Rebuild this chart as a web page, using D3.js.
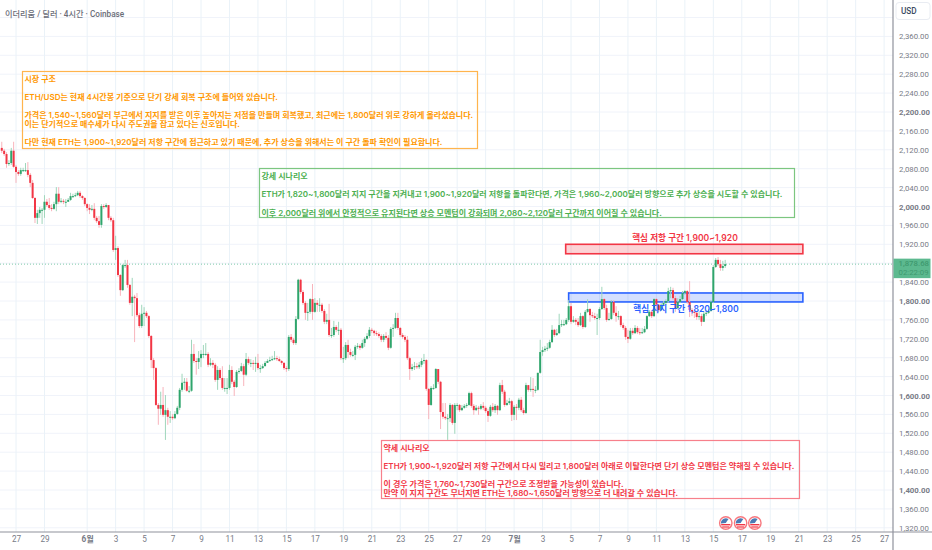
<!DOCTYPE html>
<html>
<head>
<meta charset="utf-8">
<script src="https://cdn.jsdelivr.net/npm/d3@7"></script>
<style>
  html, body { margin: 0; padding: 0; background: #fff; }
  svg { display: block; }
  text { font-family: Roboto, "Noto Sans CJK KR", sans-serif; }
  text.note { font-family: Inter, "Noto Sans CJK KR", sans-serif; }
</style>
</head>
<body>
<div id="chart"></div>
<script>
// 4h candles, first one at 2025-05-26 00:00 UTC, open of each = previous close
const firstOpen = 2124
const closes = [
  2118, 2111, 2090, 2092, 2118, 2084, 2073, 2069, 2077, 2077,
  2077, 2067, 2050, 2018, 1976, 1986, 1993, 1993, 2010, 2003,
  1997, 1995, 2005, 2027, 2010, 2012, 2010, 2010, 2014, 2022,
  2022, 2024, 2029, 2022, 2018, 2005, 1997, 1993, 1995, 1976,
  1969, 1961, 2001, 1999, 2003, 1976, 1971, 1908, 1912, 1855,
  1823, 1876, 1876, 1834, 1796, 1809, 1806, 1770, 1747, 1773,
  1775, 1768, 1726, 1675, 1658, 1580, 1572, 1580, 1559, 1569,
  1555, 1555, 1552, 1561, 1574, 1612, 1627, 1629, 1610, 1610,
  1688, 1673, 1671, 1679, 1688, 1688, 1688, 1665, 1669, 1665,
  1633, 1654, 1637, 1616, 1616, 1616, 1654, 1629, 1618, 1650,
  1652, 1662, 1644, 1677, 1669, 1669, 1667, 1669, 1658, 1658,
  1662, 1669, 1673, 1675, 1677, 1679, 1677, 1673, 1669, 1658,
  1656, 1724, 1718, 1711, 1762, 1845, 1819, 1796, 1775, 1777,
  1804, 1777, 1796, 1792, 1792, 1779, 1756, 1760, 1728, 1728,
  1745, 1739, 1739, 1679, 1679, 1707, 1692, 1686, 1686, 1703,
  1705, 1701, 1711, 1720, 1726, 1739, 1737, 1732, 1730, 1726,
  1718, 1726, 1722, 1701, 1741, 1743, 1764, 1743, 1728, 1724,
  1718, 1679, 1656, 1660, 1662, 1660, 1665, 1673, 1675, 1614,
  1580, 1616, 1616, 1656, 1629, 1565, 1555, 1552, 1552, 1580,
  1542, 1580, 1580, 1569, 1574, 1578, 1580, 1605, 1578, 1569,
  1574, 1572, 1578, 1574, 1567, 1557, 1576, 1569, 1578, 1569,
  1622, 1608, 1580, 1584, 1588, 1559, 1576, 1574, 1591, 1569,
  1563, 1622, 1612, 1614, 1612, 1612, 1648, 1692, 1696, 1699,
  1701, 1713, 1739, 1728, 1732, 1749, 1751, 1751, 1760, 1789,
  1756, 1760, 1756, 1749, 1768, 1745, 1777, 1783, 1770, 1768,
  1764, 1764, 1783, 1804, 1785, 1760, 1762, 1798, 1775, 1768,
  1768, 1749, 1743, 1724, 1720, 1737, 1732, 1743, 1734, 1732,
  1734, 1741, 1768, 1777, 1768, 1804, 1792, 1781, 1792, 1796,
  1800, 1821, 1823, 1806, 1785, 1798, 1804, 1817, 1821, 1798,
  1781, 1777, 1775, 1766, 1768, 1756, 1773, 1775, 1779, 1798,
  1872, 1887, 1878, 1870, 1874, 1878
]
const highs = [
  2137, 2122, 2115, 2098, 2124, 2137, 2088, 2077, 2082, 2082,
  2092, 2094, 2071, 2056, 2020, 1993, 1999, 1997, 2024, 2016,
  2018, 2005, 2010, 2041, 2041, 2018, 2016, 2016, 2018, 2029,
  2027, 2029, 2033, 2033, 2024, 2020, 2007, 2005, 2003, 2007,
  1980, 1980, 2005, 2005, 2007, 2003, 1980, 1976, 1938, 1916,
  1857, 1878, 1887, 1887, 1836, 1849, 1813, 1817, 1775, 1792,
  1787, 1779, 1770, 1728, 1679, 1660, 1584, 1608, 1618, 1601,
  1574, 1567, 1561, 1567, 1578, 1616, 1646, 1637, 1637, 1620,
  1718, 1709, 1679, 1694, 1696, 1707, 1711, 1692, 1679, 1675,
  1669, 1662, 1658, 1662, 1637, 1637, 1665, 1662, 1633, 1654,
  1658, 1669, 1667, 1690, 1682, 1677, 1675, 1682, 1688, 1665,
  1667, 1673, 1677, 1682, 1684, 1694, 1684, 1682, 1675, 1671,
  1662, 1728, 1730, 1722, 1768, 1847, 1847, 1823, 1800, 1796,
  1806, 1836, 1806, 1802, 1806, 1796, 1783, 1773, 1794, 1743,
  1758, 1749, 1756, 1743, 1703, 1713, 1718, 1699, 1694, 1707,
  1711, 1709, 1718, 1724, 1732, 1745, 1743, 1739, 1737, 1734,
  1730, 1730, 1734, 1728, 1745, 1751, 1775, 1775, 1745, 1732,
  1728, 1726, 1682, 1667, 1671, 1669, 1671, 1679, 1688, 1677,
  1616, 1620, 1624, 1658, 1656, 1631, 1584, 1584, 1561, 1584,
  1582, 1584, 1584, 1582, 1580, 1582, 1584, 1608, 1608, 1582,
  1580, 1578, 1582, 1586, 1578, 1572, 1580, 1584, 1582, 1580,
  1627, 1633, 1612, 1591, 1595, 1591, 1580, 1582, 1595, 1597,
  1574, 1627, 1622, 1639, 1637, 1620, 1648, 1718, 1703, 1705,
  1711, 1718, 1749, 1741, 1741, 1773, 1760, 1760, 1764, 1802,
  1796, 1768, 1764, 1764, 1775, 1770, 1781, 1804, 1785, 1777,
  1775, 1773, 1787, 1830, 1806, 1792, 1775, 1802, 1802, 1789,
  1779, 1770, 1754, 1747, 1739, 1743, 1743, 1749, 1747, 1743,
  1743, 1747, 1770, 1781, 1781, 1806, 1806, 1794, 1796, 1800,
  1804, 1828, 1830, 1828, 1811, 1806, 1811, 1821, 1823, 1823,
  1842, 1785, 1781, 1777, 1777, 1773, 1777, 1781, 1783, 1802,
  1876, 1891, 1893, 1887, 1885, 1887
]
const lows = [
  2113, 2107, 2082, 2086, 2088, 2082, 2050, 2065, 2065, 2073,
  2073, 2062, 2041, 2016, 1965, 1963, 1976, 1963, 1976, 1999,
  1993, 1990, 1993, 1990, 2005, 2007, 2005, 1999, 2010, 2012,
  2018, 2020, 2022, 2018, 2014, 2001, 1990, 1984, 1990, 1971,
  1965, 1955, 1955, 1995, 1997, 1971, 1967, 1904, 1887, 1851,
  1811, 1821, 1870, 1828, 1792, 1768, 1713, 1766, 1743, 1743,
  1747, 1764, 1722, 1658, 1633, 1578, 1538, 1559, 1555, 1506,
  1538, 1542, 1548, 1550, 1559, 1569, 1608, 1612, 1608, 1605,
  1608, 1669, 1644, 1656, 1660, 1679, 1684, 1660, 1662, 1658,
  1629, 1612, 1633, 1612, 1608, 1603, 1612, 1624, 1599, 1616,
  1646, 1650, 1620, 1641, 1665, 1660, 1654, 1650, 1654, 1648,
  1656, 1662, 1669, 1671, 1673, 1675, 1673, 1671, 1665, 1654,
  1650, 1652, 1713, 1707, 1707, 1760, 1815, 1792, 1760, 1758,
  1773, 1760, 1775, 1777, 1777, 1775, 1751, 1751, 1724, 1722,
  1724, 1734, 1728, 1675, 1669, 1675, 1679, 1682, 1682, 1675,
  1699, 1696, 1699, 1703, 1718, 1722, 1732, 1726, 1726, 1722,
  1713, 1713, 1718, 1696, 1699, 1724, 1741, 1739, 1724, 1720,
  1713, 1675, 1633, 1652, 1654, 1656, 1656, 1660, 1667, 1610,
  1550, 1578, 1612, 1614, 1624, 1529, 1550, 1548, 1506, 1544,
  1538, 1519, 1569, 1565, 1567, 1572, 1574, 1578, 1574, 1559,
  1567, 1559, 1569, 1569, 1563, 1544, 1555, 1565, 1563, 1559,
  1567, 1603, 1576, 1578, 1580, 1546, 1548, 1548, 1569, 1565,
  1559, 1561, 1608, 1608, 1597, 1605, 1610, 1646, 1684, 1692,
  1694, 1699, 1711, 1724, 1726, 1730, 1745, 1747, 1749, 1756,
  1751, 1754, 1749, 1745, 1747, 1741, 1743, 1775, 1756, 1764,
  1760, 1728, 1760, 1781, 1781, 1756, 1758, 1760, 1770, 1756,
  1760, 1745, 1739, 1718, 1711, 1718, 1728, 1730, 1730, 1728,
  1730, 1732, 1739, 1766, 1764, 1766, 1781, 1777, 1779, 1789,
  1792, 1796, 1806, 1802, 1777, 1783, 1796, 1802, 1813, 1794,
  1766, 1768, 1764, 1760, 1760, 1747, 1756, 1768, 1773, 1777,
  1796, 1870, 1874, 1864, 1864, 1870
]

const priceTicks = [2360, 2320, 2280, 2240, 2200, 2160, 2120, 2080, 2040, 2000, 1960, 1920, 1840, 1800, 1760, 1720, 1680, 1640, 1600, 1560, 1520, 1480, 1440, 1400, 1360, 1320]
const gridPrices = [2400, 2360, 2320, 2280, 2240, 2200, 2160, 2120, 2080, 2040, 2000, 1960, 1920, 1880, 1840, 1800, 1760, 1720, 1680, 1640, 1600, 1560, 1520, 1480, 1440, 1400, 1360, 1320]
const dayTicks = ['05-27', '05-29', '06-01', '06-03', '06-05', '06-07', '06-09', '06-11', '06-13', '06-15', '06-17', '06-19', '06-21', '06-23', '06-25', '06-27', '06-29', '07-01', '07-03', '07-05', '07-07', '07-09', '07-11', '07-13', '07-15', '07-17', '07-19', '07-21', '07-23', '07-25', '07-27']

const lastPrice = 1878
const lastPriceLabel = '1,878.68'
const countdownLabel = '02:22:09'
const chartTitle = '이더리움 / 달러 · 4시간 · Coinbase'

const marketLines = [
  '시장 구조',
  '',
  'ETH/USD는 현재 4시간봉 기준으로 단기 강세 회복 구조에 들어와 있습니다.',
  '',
  '가격은 1,540~1,560달러 부근에서 지지를 받은 이후 높아지는 저점을 만들며 회복했고, 최근에는 1,800달러 위로 강하게 올라섰습니다.',
  '이는 단기적으로 매수세가 다시 주도권을 잡고 있다는 신호입니다.',
  '',
  '다만 현재 ETH는 1,900~1,920달러 저항 구간에 접근하고 있기 때문에, 추가 상승을 위해서는 이 구간 돌파 확인이 필요합니다.'
]
const bullLines = [
  '강세 시나리오',
  '',
  'ETH가 1,820~1,800달러 지지 구간을 지켜내고 1,900~1,920달러 저항을 돌파한다면, 가격은 1,960~2,000달러 방향으로 추가 상승을 시도할 수 있습니다.',
  '',
  '이후 2,000달러 위에서 안정적으로 유지된다면 상승 모멘텀이 강화되며 2,080~2,120달러 구간까지 이어질 수 있습니다.'
]
const bearLines = [
  '약세 시나리오',
  '',
  'ETH가 1,900~1,920달러 저항 구간에서 다시 밀리고 1,800달러 아래로 이탈한다면 단기 상승 모멘텀은 약해질 수 있습니다.',
  '',
  '이 경우 가격은 1,760~1,730달러 구간으로 조정받을 가능성이 있습니다.',
  '만약 이 지지 구간도 무너지면 ETH는 1,680~1,650달러 방향으로 더 내려갈 수 있습니다.'
]
const eventTimes = ['2025-07-15T21:00Z', '2025-07-16T22:00Z', '2025-07-17T22:00Z']

const width = 932
const height = 550
const plotRight = 893
const plotBottom = 532

const x = d3.scaleUtc()
  .domain([new Date('2025-05-25T21:00Z'), new Date('2025-07-27T15:00Z')])
  .range([0, plotRight])
const y = d3.scaleLinear().domain([2200, 1400]).range([112, 490])

const start = Date.parse('2025-05-26T00:00Z')
const barMs = 4 * 3600 * 1000
const candles = closes.map((c, i) => ({
  date: new Date(start + i * barMs),
  open: i === 0 ? firstOpen : closes[i - 1],
  close: c,
  high: highs[i],
  low: lows[i]
}))
const tickDates = dayTicks.map((d) => new Date(`2025-${d}T00:00Z`))

const svg = d3.select('#chart')
  .append('svg')
  .attr('width', width)
  .attr('height', height)

// grid
svg.append('g')
  .selectAll('line')
  .data(gridPrices)
  .join('line')
  .attr('x1', 0)
  .attr('x2', plotRight)
  .attr('y1', (d) => y(d))
  .attr('y2', (d) => y(d))
  .attr('stroke', '#f0f3fa')
svg.append('g')
  .selectAll('line')
  .data(tickDates)
  .join('line')
  .attr('x1', (d) => x(d))
  .attr('x2', (d) => x(d))
  .attr('y1', 0)
  .attr('y2', plotBottom)
  .attr('stroke', '#eaf2f8')

// zones, the edges are times and prices
const zone = (from, to, top, bottom, color, fill) => {
  svg.append('rect')
    .attr('x', x(new Date(from)))
    .attr('width', x(new Date(to)) - x(new Date(from)))
    .attr('y', y(top))
    .attr('height', y(bottom) - y(top))
    .attr('fill', fill)
    .attr('stroke', color)
    .attr('stroke-width', 1.6)
}
zone('2025-07-04T15:00Z', '2025-07-21T07:00Z', 1920, 1900, '#f23645', 'rgba(242,54,69,0.22)')
zone('2025-07-04T20:00Z', '2025-07-21T07:00Z', 1817, 1798, '#2962ff', 'rgba(41,98,255,0.2)')

// last price
svg.append('line')
  .attr('x1', 0)
  .attr('x2', plotRight)
  .attr('y1', y(lastPrice))
  .attr('y2', y(lastPrice))
  .attr('stroke', '#4fb58a')
  .attr('stroke-width', 1)
  .attr('stroke-dasharray', '1 2')
  .attr('opacity', 0.7)

// candles
const bars = svg.append('g')
  .selectAll('g')
  .data(candles)
  .join('g')
  .attr('transform', (d) => `translate(${x(d.date)},0)`)
bars.append('line')
  .attr('y1', (d) => y(d.high))
  .attr('y2', (d) => y(d.low))
  .attr('stroke', (d) => (d.close >= d.open ? '#9fd6bb' : '#f8b4bc'))
  .attr('stroke-width', 1)
bars.append('rect')
  .attr('x', -1)
  .attr('width', 2)
  .attr('y', (d) => y(Math.max(d.open, d.close)))
  .attr('height', (d) => Math.max(1, Math.abs(y(d.open) - y(d.close))))
  .attr('fill', (d) => (d.close >= d.open ? '#2fa56c' : '#f23645'))

// text boxes
const noteBox = (lines, left, top, boxWidth, boxHeight, step, color, strokeColor) => {
  const g = svg.append('g')
  g.append('rect')
    .attr('x', left)
    .attr('y', top)
    .attr('width', boxWidth)
    .attr('height', boxHeight)
    .attr('fill', 'none')
    .attr('stroke', strokeColor)
    .attr('stroke-width', 1.2)
  g.selectAll('text')
    .data(lines)
    .join('text')
    .attr('class', 'note')
    .attr('x', left + 2)
    .attr('y', (d, i) => top + 7.2 + i * step)
    .attr('dy', '0.35em')
    .attr('fill', color)
    .attr('font-size', 8)
    .attr('font-weight', 600)
    .text((d) => d)
}
noteBox(marketLines, 22.5, 71.5, 455, 77, 9.1, '#ff9800', '#ffb44d')
noteBox(bullLines, 259.5, 168.5, 535, 49, 9.25, '#4caf50', '#7cc680')
noteBox(bearLines, 381.5, 440.5, 418, 58, 9, '#f23645', '#f7808b')

svg.append('text')
  .attr('class', 'note')
  .attr('x', 685)
  .attr('y', 238)
  .attr('dy', '0.35em')
  .attr('text-anchor', 'middle')
  .attr('fill', '#f23645')
  .attr('font-size', 8.6)
  .attr('font-weight', 600)
  .text('핵심 저항 구간 1,900~1,920')
svg.append('text')
  .attr('class', 'note')
  .attr('x', 686)
  .attr('y', 309)
  .attr('dy', '0.35em')
  .attr('text-anchor', 'middle')
  .attr('fill', '#2962ff')
  .attr('font-size', 8.6)
  .attr('font-weight', 600)
  .text('핵심 지지 구간 1,820~1,800')

svg.append('text')
  .attr('x', 5)
  .attr('y', 14)
  .attr('dy', '0.35em')
  .attr('fill', '#6a6d78')
  .attr('font-size', 8.2)
  .attr('font-weight', 500)
  .text(chartTitle)

// event flags at the bottom
const flags = svg.append('g')
  .selectAll('g')
  .data(eventTimes)
  .join('g')
  .attr('transform', (d) => `translate(${x(new Date(d))},523)`)
flags.append('circle').attr('r', 6.2).attr('fill', '#fff').attr('stroke', '#f7787f').attr('stroke-width', 1.4)
flags.append('rect').attr('x', -4.6).attr('y', 1).attr('width', 9.2).attr('height', 1.4).attr('fill', '#f23645')
flags.append('rect').attr('x', -3.6).attr('y', 3.4).attr('width', 7.2).attr('height', 1.2).attr('fill', '#f23645')
flags.append('path').attr('d', d3.arc()({ innerRadius: 0, outerRadius: 4.8, startAngle: -1.7, endAngle: 0.6 })).attr('fill', '#4b7bb5')

// axes
const xAxis = svg.append('g')
  .attr('transform', `translate(0,${plotBottom})`)
  .call(d3.axisBottom(x)
    .tickValues(tickDates)
    .tickSize(0)
    .tickPadding(4)
    .tickFormat((d) => (d.getUTCDate() === 1 ? `${d.getUTCMonth() + 1}월` : d.getUTCDate())))
xAxis.select('.domain').remove()
xAxis.selectAll('text')
  .attr('fill', '#787b86')
  .attr('font-size', 8.2)
  .attr('font-weight', (d) => (d.getUTCDate() === 1 ? 700 : 400))

const yAxis = svg.append('g')
  .attr('transform', `translate(${plotRight},0)`)
  .call(d3.axisRight(y)
    .tickValues(priceTicks)
    .tickSize(0)
    .tickPadding(6)
    .tickFormat(d3.format(',.2f')))
yAxis.select('.domain').remove()
yAxis.selectAll('text')
  .attr('fill', '#787b86')
  .attr('font-size', 7.8)
  .attr('font-weight', (d) => (d % 200 === 0 ? 700 : 400))

svg.append('line').attr('x1', 0).attr('x2', width).attr('y1', plotBottom).attr('y2', plotBottom).attr('stroke', '#8f929c').attr('stroke-width', 1.2)
svg.append('line').attr('x1', plotRight).attr('x2', plotRight).attr('y1', 0).attr('y2', height).attr('stroke', '#8f929c').attr('stroke-width', 1.2)

// last price tag
svg.append('rect')
  .attr('x', plotRight + 0.5)
  .attr('y', y(lastPrice) - 5.5)
  .attr('width', width - plotRight - 2)
  .attr('height', 19.5)
  .attr('fill', '#5cb98f')
svg.append('text')
  .attr('x', plotRight + 5.5)
  .attr('y', y(lastPrice) - 0.5)
  .attr('dy', '0.35em')
  .attr('fill', '#3f9a70')
  .attr('font-size', 7.8)
  .attr('font-weight', 500)
  .text(lastPriceLabel)
svg.append('text')
  .attr('x', plotRight + 5.5)
  .attr('y', y(lastPrice) + 8.5)
  .attr('dy', '0.35em')
  .attr('fill', '#3f9a70')
  .attr('font-size', 7.8)
  .text(countdownLabel)

// currency button
svg.append('rect')
  .attr('x', plotRight + 3)
  .attr('y', 2.5)
  .attr('width', 34)
  .attr('height', 17)
  .attr('rx', 3)
  .attr('fill', '#fff')
  .attr('stroke', '#e9ecf2')
svg.append('text')
  .attr('x', plotRight + 8)
  .attr('y', 11)
  .attr('dy', '0.35em')
  .attr('fill', '#3b4a63')
  .attr('font-size', 8.2)
  .attr('font-weight', 500)
  .text('USD')
</script>
</body>
</html>
